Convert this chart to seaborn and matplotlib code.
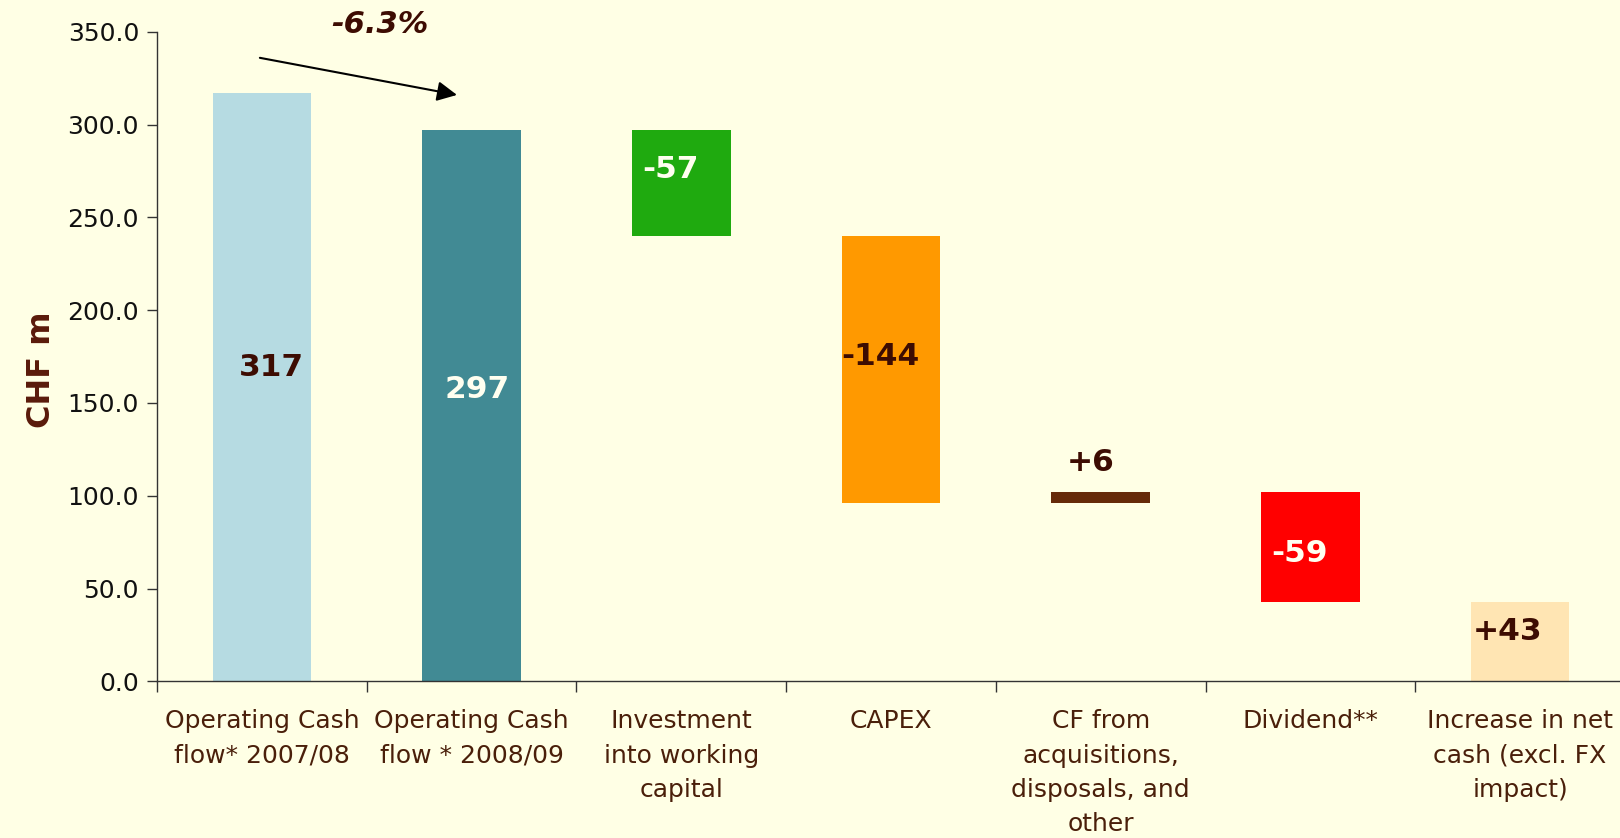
import matplotlib
matplotlib.use("Agg")
import matplotlib.pyplot as plt
from matplotlib.ticker import FixedLocator
import numpy as np
import pandas as pd
import seaborn as sns

# categories and movements (CHF m)
categories = ["Operating Cash\nflow* 2007/08", "Operating Cash\nflow * 2008/09",
              "Investment\ninto working\ncapital", "CAPEX",
              "CF from\nacquisitions,\ndisposals, and\nother", "Dividend**",
              "Increase in net\ncash (excl. FX\nimpact)"]
ocf_prev = 317
ocf_curr = 297
deltas = [-57, -144, 6, -59]
net_increase = 43
bar_labels = ["317", "297", "-57", "-144", "+6", "-59", "+43"]
change_label = "-6.3%"
yticks = [0, 50, 100, 150, 200, 250, 300, 350]

bar_colors = ["#B6DBE2", "#418A94", "#1FAA0F", "#FF9900", "#662A09", "#FF0000", "#FFE5B3"]
label_colors = ["#3D0C02", "#FFFFF0", "#FFFFF0", "#3D0C02", "#3D0C02", "#FFFFF0", "#3D0C02"]
bg = "#FFFFE5"
dark = "#3D0C02"

# waterfall start / end
starts = [0, 0]
ends = [ocf_prev, ocf_curr]
running = ocf_curr
for d in deltas:
    starts.append(running)
    running += d
    ends.append(running)
starts.append(0)
ends.append(net_increase)

df = pd.DataFrame({"cat": categories, "start": starts, "end": ends})
df["lo"] = df[["start", "end"]].min(axis=1)
df["height"] = (df["end"] - df["start"]).abs()

sns.set_style("white")
plt.rcParams["font.family"] = ["DejaVu Sans"]

fig = plt.figure(figsize=(16.2, 8.38), dpi=100, facecolor=bg)
ax = fig.add_axes([0.097, 0.187, 0.906, 0.775])
ax.set_facecolor(bg)

sns.barplot(data=df, x="cat", y="height", bottom=df["lo"].values, order=categories,
            width=0.47, color=bar_colors[0], linewidth=0, ax=ax)
for p, c in zip(ax.patches, bar_colors):
    p.set_facecolor(c)
    p.set_edgecolor(c)

# value labels
label_y = [169, 157, 276, 175, 118, 69, 27]
label_dx = [0.045, 0.025, -0.05, -0.05, -0.05, -0.05, -0.06]
for i, (t, c) in enumerate(zip(bar_labels, label_colors)):
    ax.text(i + label_dx[i], label_y[i], t, ha="center", va="center",
            fontsize=22.5, fontweight="bold", color=c)

# change arrow
ax.annotate("", xy=(0.93, 316), xytext=(-0.01, 336),
            arrowprops=dict(arrowstyle="-|>", color="black", lw=1.5,
                            mutation_scale=30, shrinkA=0, shrinkB=0),
            annotation_clip=False)
ax.text(0.56, 354, change_label, ha="center", va="center", fontsize=22,
        fontweight="bold", fontstyle="italic", color=dark, clip_on=False)

ax.set_ylim(0, 350)
ax.set_xlim(-0.5, len(categories) - 0.5)
ax.set_yticks(yticks)
ax.set_yticklabels([f"{v:.1f}" for v in yticks], fontsize=18, color="#111111")
ax.set_xticks(range(len(categories)))
ax.set_xticklabels(categories, fontsize=18, color="#4A1F0A", linespacing=1.55, va="top")
ax.xaxis.set_minor_locator(FixedLocator(np.arange(-0.5, len(categories), 1.0)))
ax.tick_params(axis="x", which="major", length=0, pad=20, bottom=True)
ax.tick_params(axis="x", which="minor", length=8, width=1, color="#333333",
               direction="out", bottom=True)
ax.tick_params(axis="y", length=7, width=1, color="#333333", direction="out", pad=6, left=True)
ax.set_xlabel("")
ax.set_ylabel("CHF m", fontsize=23, fontweight="bold", color="#5A1A0A")
ax.yaxis.set_label_coords(-0.068, 0.48)

sns.despine(ax=ax)
for s in ["left", "bottom"]:
    ax.spines[s].set_color("#333333")
    ax.spines[s].set_linewidth(1)

fig.savefig("out.png", dpi=100, facecolor=bg)
